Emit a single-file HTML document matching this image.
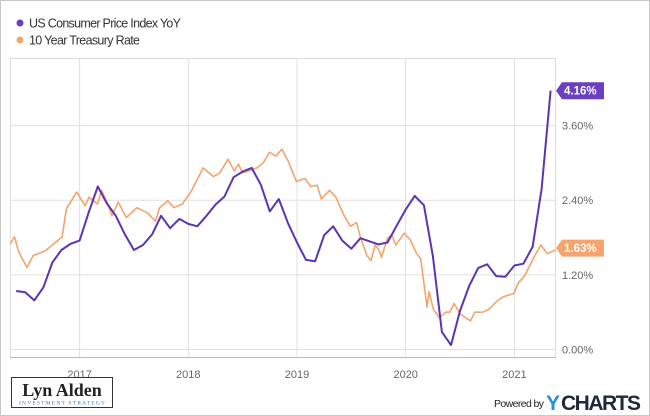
<!DOCTYPE html>
<html><head><meta charset="utf-8"><style>
html,body{margin:0;padding:0;background:#fff}
#wrap{position:relative;width:650px;height:416px;overflow:hidden;font-family:"Liberation Sans",sans-serif}
</style></head><body>
<div id="wrap">
<svg id="chart" width="650" height="416" xmlns="http://www.w3.org/2000/svg">
<rect x="0.5" y="0.5" width="649" height="415" fill="#fff" stroke="#c8c8c8"/>
<g>
<g><circle cx="20" cy="23" r="3.5" fill="#6a3fc0"/><text x="29" y="27.5" font-size="12.5" fill="#333" textLength="152">US Consumer Price Index YoY</text></g>
<g><circle cx="20" cy="40" r="3.5" fill="#f4a46c"/><text x="29" y="44.5" font-size="12.5" fill="#333" textLength="111">10 Year Treasury Rate</text></g>
</g>
<rect x="10.5" y="58.5" width="545" height="299" fill="none" stroke="#dcdcdc"/>
<g id="grid"></g>
<line x1="10" y1="357.5" x2="556" y2="357.5" stroke="#bbb"/>
<g id="series"></g>
<g id="labels"></g>
<g>
<rect x="11.5" y="377.5" width="101" height="30" fill="#fff" stroke="#333"/>
<text x="62" y="396" text-anchor="middle" font-family="Liberation Serif,serif" font-weight="bold" font-size="18" fill="#222">Lyn Alden</text>
<text x="62" y="404.5" text-anchor="middle" font-family="Liberation Serif,serif" font-size="5.5" fill="#3a7dbf" textLength="86">INVESTMENT STRATEGY</text>
</g>
<g>
<text x="494" y="407" font-size="10.5" fill="#222" textLength="50">Powered by</text>
<text x="546" y="410" font-size="21" font-weight="bold" fill="#2a8fd6">Y</text>
<text x="561" y="410" font-size="21" font-weight="bold" fill="#1e2a38" textLength="80">CHARTS</text>
</g>
</svg>
</div>
<script>
const cpiDates=[2016.417,2016.5,2016.583,2016.667,2016.75,2016.833,2016.917,2017.0,2017.083,2017.167,2017.25,2017.333,2017.417,2017.5,2017.583,2017.667,2017.75,2017.833,2017.917,2018.0,2018.083,2018.167,2018.25,2018.333,2018.417,2018.5,2018.583,2018.667,2018.75,2018.833,2018.917,2019.0,2019.083,2019.167,2019.25,2019.333,2019.417,2019.5,2019.583,2019.667,2019.75,2019.833,2019.917,2020.0,2020.083,2020.167,2020.25,2020.333,2020.417,2020.5,2020.583,2020.667,2020.75,2020.833,2020.917,2021.0,2021.083,2021.167,2021.25,2021.333];
const cpiValues=[0.94,0.92,0.79,1.0,1.4,1.6,1.7,1.75,2.2,2.62,2.35,2.15,1.85,1.6,1.68,1.85,2.15,1.95,2.1,2.02,1.98,2.15,2.33,2.46,2.77,2.86,2.92,2.65,2.22,2.42,2.03,1.72,1.44,1.42,1.84,1.98,1.75,1.62,1.79,1.74,1.69,1.72,1.99,2.25,2.47,2.32,1.5,0.28,0.07,0.62,1.02,1.31,1.37,1.18,1.17,1.35,1.38,1.65,2.58,4.16];
const tyDates=[2016.363,2016.401,2016.440,2016.515,2016.573,2016.687,2016.764,2016.840,2016.878,2016.973,2017.050,2017.087,2017.164,2017.202,2017.259,2017.297,2017.355,2017.431,2017.526,2017.622,2017.698,2017.736,2017.812,2017.869,2017.946,2018.022,2018.137,2018.232,2018.289,2018.365,2018.423,2018.461,2018.499,2018.557,2018.632,2018.690,2018.747,2018.804,2018.861,2018.918,2018.995,2019.071,2019.128,2019.186,2019.224,2019.300,2019.357,2019.434,2019.491,2019.548,2019.586,2019.643,2019.681,2019.719,2019.758,2019.776,2019.833,2019.872,2019.910,2019.986,2020.043,2020.101,2020.139,2020.178,2020.196,2020.215,2020.254,2020.311,2020.368,2020.406,2020.445,2020.501,2020.597,2020.635,2020.711,2020.768,2020.845,2020.902,2020.997,2021.035,2021.092,2021.188,2021.245,2021.302,2021.378];
const tyValues=[1.70,1.81,1.57,1.32,1.51,1.59,1.70,1.81,2.26,2.53,2.31,2.45,2.34,2.56,2.34,2.15,2.37,2.12,2.28,2.20,2.06,2.28,2.39,2.28,2.34,2.53,2.92,2.78,2.84,3.06,2.87,2.98,2.84,2.87,2.92,3.00,3.17,3.11,3.22,3.03,2.70,2.75,2.62,2.64,2.42,2.56,2.45,2.15,1.98,2.04,1.79,1.51,1.43,1.68,1.59,1.48,1.79,1.84,1.68,1.87,1.76,1.54,1.45,0.93,0.68,0.93,0.65,0.51,0.60,0.60,0.74,0.57,0.46,0.60,0.60,0.65,0.79,0.85,0.90,1.07,1.18,1.51,1.68,1.54,1.60];
const yTicks=[0,1.2,2.4,3.6];
const yTickLabels=["0.00%","1.20%","2.40%","3.60%"];
const xTicks=[2017,2018,2019,2020,2021];
const xTickLabels=["2017","2018","2019","2020","2021"];
const cpiLast="4.16%", tyLast="1.63%";

const NS="http://www.w3.org/2000/svg";
function xS(t){return 79.6+(t-2017)*108.7;}
function yS(v){return 349.5-v*62.2;}
function mk(tag,attrs,parent){const e=document.createElementNS(NS,tag);for(const k in attrs)e.setAttribute(k,attrs[k]);parent.appendChild(e);return e;}
const grid=document.getElementById('grid'),series=document.getElementById('series'),labels=document.getElementById('labels');
yTicks.forEach((v,i)=>{
  const l=mk('line',{x1:10,x2:556,y1:yS(v),y2:yS(v),stroke:'#e0e0e0'},grid);
  
  
  const t=mk('text',{x:562,y:yS(v)+4,'font-size':11,fill:'#666'},labels);
  t.textContent=yTickLabels[i];
  
  
});
xTicks.forEach((v,i)=>{
  const l=mk('line',{x1:xS(v),x2:xS(v),y1:58,y2:357,stroke:'#e0e0e0'},grid);
  
  
  const t=mk('text',{x:xS(v),y:378,'font-size':11,fill:'#666','text-anchor':'middle'},labels);
  t.textContent=xTickLabels[i];
  
  
});
function pts(d,v){return d.map((t,i)=>xS(t).toFixed(1)+','+yS(v[i]).toFixed(1)).join(' ');}
const ty=mk('polyline',{points:pts(tyDates,tyValues),fill:'none',stroke:'#f4a46c','stroke-width':1.6,'stroke-linejoin':'round'},series);


const cpi=mk('polyline',{points:pts(cpiDates,cpiValues),fill:'none',stroke:'#5b34b4','stroke-width':2,'stroke-linejoin':'round'},series);


function badge(val,txt,color,name){
  const y=yS(val);
  const g=mk('g',{},labels);
  
  
  mk('polygon',{points:`556,${y} 562,${y-8.5} 604,${y-8.5} 604,${y+8.5} 562,${y+8.5}`,fill:color},g);
  const t=mk('text',{x:564,y:y+4,'font-size':11.5,'font-weight':'bold',fill:'#fff'},g);
  t.textContent=txt;
}
badge(cpiValues[cpiValues.length-1],cpiLast,'#6a3fc0','cpi-last-value-badge');
badge(1.63,tyLast,'#f4a46c','treasury-last-value-badge');
</script>
</body></html>
